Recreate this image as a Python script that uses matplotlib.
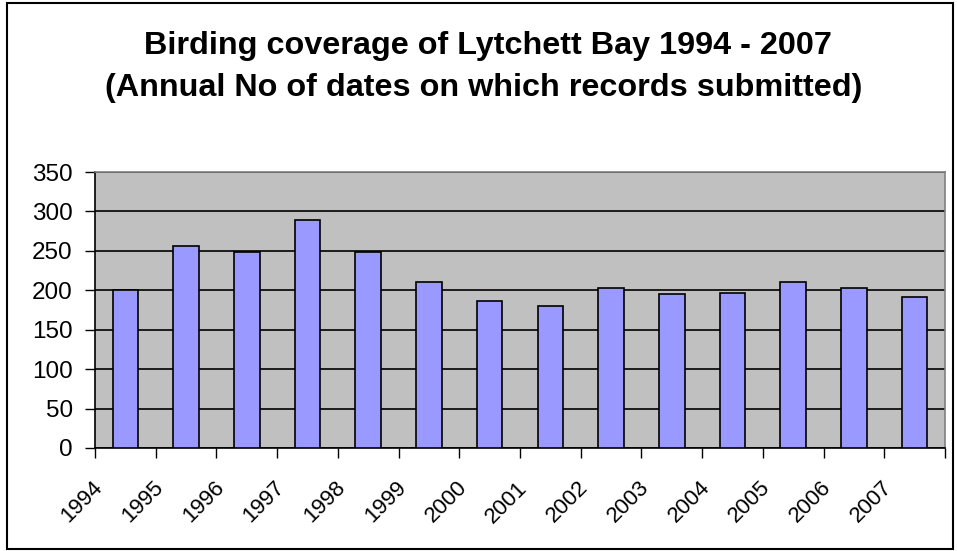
import numpy as np
import matplotlib
matplotlib.use('Agg')
import matplotlib.pyplot as plt
import matplotlib.transforms as mtransforms
from matplotlib.patches import Rectangle

# data
years = ['1994', '1995', '1996', '1997', '1998', '1999', '2000',
         '2001', '2002', '2003', '2004', '2005', '2006', '2007']
dates = [200, 256, 248, 289, 248, 210, 187,
         180, 203, 195, 197, 210, 203, 192]

plt.rcParams['font.family'] = ['Liberation Sans', 'DejaVu Sans']

fig = plt.figure(figsize=(9.57, 5.51), dpi=100)
ax = fig.add_axes([95/957, 1 - 448/551, 850/957, 276/551])

x = np.arange(len(years))
ax.set_facecolor('#C0C0C0')
ax.set_axisbelow(True)
ax.yaxis.grid(True, color='black', linewidth=1.2)
ax.bar(x, dates, width=0.42, color='#9999FF', edgecolor='black', linewidth=1.2, zorder=3)

ax.set_xlim(-0.5, len(years) - 0.5)
ax.set_ylim(0, 350)
ax.set_yticks(np.arange(0, 351, 50))
ax.tick_params(axis='y', labelsize=17.5, length=7, width=1, direction='out', pad=9)

# ticks sit on the category boundaries, labels hang off the left boundary
ax.set_xticks(np.arange(len(years) + 1) - 0.5)
ax.set_xticklabels(years + [''], rotation=45, ha='right', va='top', fontsize=16)
ax.tick_params(axis='x', length=7, width=1, direction='out', pad=14)
offset = mtransforms.ScaledTranslation(12/100, 0, fig.dpi_scale_trans)
for lbl in ax.get_xticklabels():
    lbl.set_transform(lbl.get_transform() + offset)

for side in ['left', 'bottom']:
    ax.spines[side].set_color('black')
    ax.spines[side].set_linewidth(1.2)
for side in ['top', 'right']:
    ax.spines[side].set_color('#808080')
    ax.spines[side].set_linewidth(1.2)

fig.text(0.510, 1 - 46/551, 'Birding coverage of Lytchett Bay 1994 - 2007',
         ha='center', va='center', fontsize=23.3, fontweight='bold')
fig.text(0.505, 1 - 88/551, '(Annual No of dates on which records submitted)',
         ha='center', va='center', fontsize=23.3, fontweight='bold')

# chart area border
fig.patches.append(Rectangle((7/957, 2/551), 946/957, 546/551, transform=fig.transFigure,
                             fill=False, edgecolor='black', linewidth=1.5))

fig.savefig('out.png', dpi=100)
